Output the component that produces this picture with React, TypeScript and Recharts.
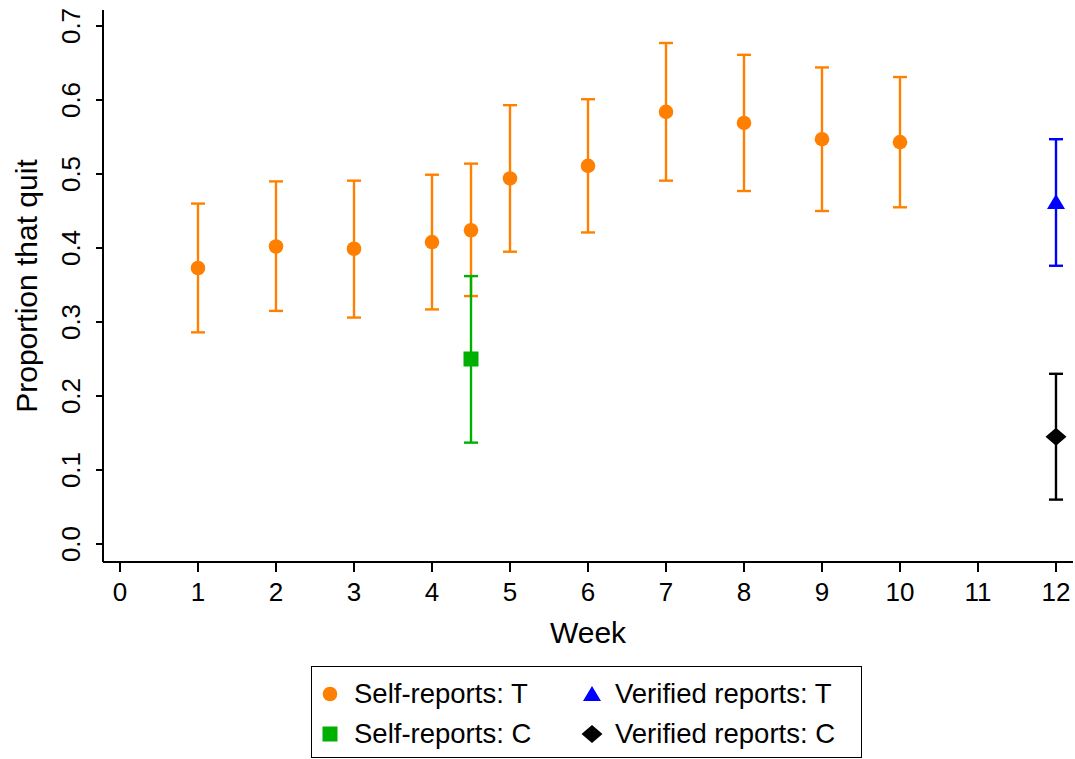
import React from 'react';
import { ScatterChart, Scatter, XAxis, YAxis, ErrorBar, Legend, Label } from 'recharts';

const FONT = '"Liberation Sans", Arial, Helvetica, sans-serif';

// self-reports, treatment group
const weeksT = [1, 2, 3, 4, 4.5, 5, 6, 7, 8, 9, 10];
const selfT = [0.373, 0.402, 0.399, 0.408, 0.424, 0.494, 0.511, 0.584, 0.569, 0.547, 0.543];
const selfTLow = [0.286, 0.315, 0.306, 0.317, 0.335, 0.395, 0.421, 0.491, 0.477, 0.45, 0.455];
const selfTHigh = [0.46, 0.49, 0.491, 0.499, 0.514, 0.593, 0.601, 0.677, 0.661, 0.644, 0.631];

// self-reports, control group
const weeksC = [4.5];
const selfC = [0.25];
const selfCLow = [0.137];
const selfCHigh = [0.362];

// verified reports at week 12
const weeksV = [12];
const verT = [0.462];
const verTLow = [0.376];
const verTHigh = [0.547];
const verC = [0.145];
const verCLow = [0.06];
const verCHigh = [0.23];

const xTicks = [0, 1, 2, 3, 4, 5, 6, 7, 8, 9, 10, 11, 12];
const yTicks = [0, 0.1, 0.2, 0.3, 0.4, 0.5, 0.6, 0.7];
const legendLabels = ['Self-reports: T', 'Self-reports: C', 'Verified reports: T', 'Verified reports: C'];

const ORANGE = '#ff8000';
const GREEN = '#00b000';
const BLUE = '#0000ff';
const BLACK = '#000000';

function toRows(xs: number[], ys: number[], lo: number[], hi: number[]) {
  return xs.map((x, i) => ({ x, y: ys[i], err: [ys[i] - lo[i], hi[i] - ys[i]] }));
}

const selfTData = toRows(weeksT, selfT, selfTLow, selfTHigh);
const selfCData = toRows(weeksC, selfC, selfCLow, selfCHigh);
const verTData = toRows(weeksV, verT, verTLow, verTHigh);
const verCData = toRows(weeksV, verC, verCLow, verCHigh);

const Dot = (p: any) => <circle cx={p.cx} cy={p.cy} r={7.3} fill={ORANGE} />;
const Square = (p: any) => <rect x={p.cx - 7.5} y={p.cy - 7.5} width={15} height={15} fill={GREEN} />;
const Triangle = (p: any) => (
  <polygon points={`${p.cx},${p.cy - 8} ${p.cx + 9},${p.cy + 7} ${p.cx - 9},${p.cy + 7}`} fill={BLUE} />
);
const Diamond = (p: any) => (
  <polygon points={`${p.cx},${p.cy - 9} ${p.cx + 10.5},${p.cy} ${p.cx},${p.cy + 9} ${p.cx - 10.5},${p.cy}`} fill={BLACK} />
);

function YTick(props: any) {
  const { x, y, payload } = props;
  return (
    <text x={x} y={y} transform={`rotate(-90, ${x}, ${y})`} textAnchor="middle" fontSize={26} fontFamily={FONT} fill="#000">
      {Number(payload.value).toFixed(1)}
    </text>
  );
}

function YTitle(props: any) {
  const vb = props.viewBox || { x: 0, y: 10, width: 103, height: 552 };
  const cx = vb.x + 37;
  const cy = vb.y + vb.height / 2;
  return (
    <text x={cx} y={cy} transform={`rotate(-90, ${cx}, ${cy})`} textAnchor="middle" fontSize={30} fontFamily={FONT} fill="#000">
      Proportion that quit
    </text>
  );
}

function XTitle(props: any) {
  const vb = props.viewBox || { x: 103, y: 562, width: 970, height: 197 };
  return (
    <text x={vb.x + vb.width / 2} y={vb.y + 81} textAnchor="middle" fontSize={30} fontFamily={FONT} fill="#000">
      Week
    </text>
  );
}

function LegendIcon({ kind }: { kind: number }) {
  return (
    <svg width={22} height={22} viewBox="-11 -11 22 22" style={{ display: 'block' }}>
      {kind === 0 && <circle cx={0} cy={0} r={7.3} fill={ORANGE} />}
      {kind === 1 && <rect x={-7.5} y={-7.5} width={15} height={15} fill={GREEN} />}
      {kind === 2 && <polygon points="0,-8 9,7 -9,7" fill={BLUE} />}
      {kind === 3 && <polygon points="0,-9 10.5,0 0,9 -10.5,0" fill={BLACK} />}
    </svg>
  );
}

function LegendBox() {
  const spots = [
    { ix: 18, tx: 42, cy: 27 },
    { ix: 18, tx: 42, cy: 67 },
    { ix: 280, tx: 303, cy: 27 },
    { ix: 280, tx: 303, cy: 67 },
  ];
  return (
    <div
      style={{
        width: 551, height: 92, border: '1.5px solid #000', boxSizing: 'border-box',
        position: 'relative', background: '#fff', fontFamily: FONT, fontSize: 27.5, color: '#000',
      }}
    >
      {legendLabels.map((label, i) => (
        <React.Fragment key={label}>
          <div style={{ position: 'absolute', left: spots[i].ix - 11, top: spots[i].cy - 11 }}>
            <LegendIcon kind={i} />
          </div>
          <div style={{ position: 'absolute', left: spots[i].tx, top: spots[i].cy - 16, lineHeight: '32px', whiteSpace: 'nowrap' }}>
            {label}
          </div>
        </React.Fragment>
      ))}
    </div>
  );
}

export default function App() {
  const axisStyle = { stroke: '#000', strokeWidth: 2 };
  return (
    <div style={{ position: 'absolute', left: 0, top: 0, width: 1075, height: 759, background: '#fff' }}>
      <ScatterChart width={1075} height={759} margin={{ top: 10, right: 2, bottom: 0, left: 0 }}>
        <XAxis
          type="number"
          dataKey="x"
          domain={[-0.218, 12.218]}
          ticks={xTicks}
          allowDataOverflow
          height={197}
          tickSize={10}
          tickMargin={11}
          axisLine={axisStyle}
          tickLine={axisStyle}
          tick={{ fontSize: 26, fill: '#000', fontFamily: FONT }}
        >
          <Label content={<XTitle />} />
        </XAxis>
        <YAxis
          type="number"
          dataKey="y"
          domain={[-0.0243, 0.7216]}
          ticks={yTicks}
          allowDataOverflow
          width={103}
          tickSize={7}
          tickMargin={16}
          axisLine={axisStyle}
          tickLine={axisStyle}
          tick={<YTick />}
        >
          <Label content={<YTitle />} />
        </YAxis>
        <Legend
          layout="horizontal"
          verticalAlign="middle"
          align="center"
          wrapperStyle={{ left: 311, top: 666, width: 551, height: 92 }}
          content={() => <LegendBox />}
        />
        <Scatter name={legendLabels[0]} data={selfTData} shape={<Dot />} isAnimationActive={false}>
          <ErrorBar dataKey="err" direction="y" width={7} strokeWidth={2.4} stroke={ORANGE} isAnimationActive={false} />
        </Scatter>
        <Scatter name={legendLabels[1]} data={selfCData} shape={<Square />} isAnimationActive={false}>
          <ErrorBar dataKey="err" direction="y" width={7} strokeWidth={2.4} stroke={GREEN} isAnimationActive={false} />
        </Scatter>
        <Scatter name={legendLabels[2]} data={verTData} shape={<Triangle />} isAnimationActive={false}>
          <ErrorBar dataKey="err" direction="y" width={7} strokeWidth={2.4} stroke={BLUE} isAnimationActive={false} />
        </Scatter>
        <Scatter name={legendLabels[3]} data={verCData} shape={<Diamond />} isAnimationActive={false}>
          <ErrorBar dataKey="err" direction="y" width={7} strokeWidth={2.4} stroke={BLACK} isAnimationActive={false} />
        </Scatter>
      </ScatterChart>
    </div>
  );
}
